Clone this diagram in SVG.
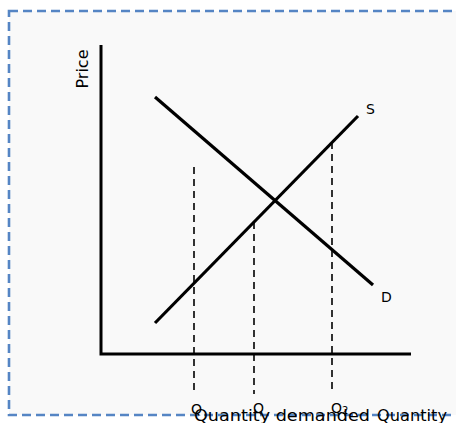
<svg xmlns="http://www.w3.org/2000/svg" width="456" height="423" viewBox="0 0 456 423">
  <style>
    .axis{stroke:#000;stroke-width:3;fill:none}
    .curve{stroke:#000;stroke-width:3.2;fill:none}
    .guide{stroke:#000;stroke-width:1.6;stroke-dasharray:7 5;fill:none}
    .lbl{font-family:"DejaVu Sans","Liberation Sans",sans-serif;fill:#000}
  </style>
  <rect x="0" y="0" width="456" height="423" fill="#fff"/>
  <rect id="frame" x="9" y="11" width="460" height="404" fill="#f9f9f9" stroke="#5585c4" stroke-width="2.6" stroke-dasharray="9 5"/>
  <g id="connectors">
    <path class="axis" d="M101 45 V354 H411"/>
    <line class="curve" x1="155" y1="97" x2="373" y2="285"/>
    <line class="curve" x1="155" y1="323" x2="358" y2="116"/>
    <line class="guide" x1="194" y1="167" x2="194" y2="394"/>
    <line class="guide" x1="254" y1="222" x2="254" y2="394"/>
    <line class="guide" x1="332" y1="142" x2="332" y2="394"/>
  </g>
  <g id="price"><text class="lbl" font-size="15" transform="translate(88 69) rotate(-90)" text-anchor="middle" textLength="39" lengthAdjust="spacingAndGlyphs">Price</text></g>
  <g id="S"><text class="lbl" font-size="14" x="366" y="114">S</text></g>
  <g id="D"><text class="lbl" font-size="14" x="381" y="302">D</text></g>
  <g id="q1"><text class="lbl" font-size="14" x="191" y="414">Q</text></g>
  <g id="q"><text class="lbl" font-size="14" x="253" y="413">Q</text></g>
  <g id="q2"><text class="lbl" font-size="14" x="331" y="413">Q<tspan font-size="10" dy="1">2</tspan></text></g>
  <g id="qd"><text class="lbl" font-size="15" x="194" y="421" textLength="176" lengthAdjust="spacingAndGlyphs">Quantity demanded</text></g>
  <g id="qty"><text class="lbl" font-size="15" x="377" y="421" textLength="70" lengthAdjust="spacingAndGlyphs">Quantity</text></g>
</svg>
